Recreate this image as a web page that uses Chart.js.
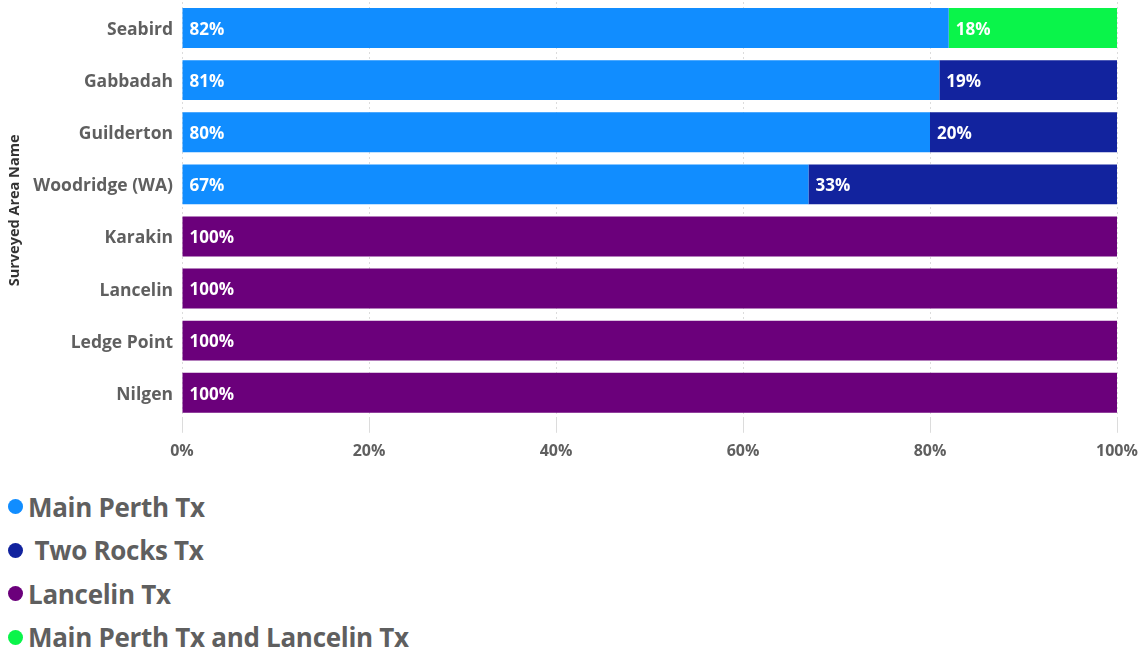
<!DOCTYPE html>
<html>
<head>
<meta charset="utf-8">
<script src="https://cdn.jsdelivr.net/npm/chart.js@4"></script>
<style>
  html, body { margin: 0; padding: 0; background: #fff; }
  body { width: 1147px; height: 655px; overflow: hidden; font-family: "Open Sans", "Noto Sans", sans-serif; }
  #wrap { position: relative; width: 1147px; height: 474px; }
  #legend { margin: 0; padding: 0; list-style: none; position: absolute; left: 8px; top: 485px; }
  #legend li { height: 43.5px; line-height: 36px; font-weight: 700; font-size: 26px; color: #5f5f5f; white-space: pre; display: flex; align-items: center; }
  #legend li span.dot { display: inline-block; width: 15px; height: 15px; border-radius: 50%; margin-right: 5px; }
  #legend li span.txt { letter-spacing: -0.3px; }
</style>
</head>
<body>
<div id="wrap"><canvas id="c"></canvas></div>
<ul id="legend"></ul>
<script>
// Surveyed areas, top to bottom
const areas = ["Seabird", "Gabbadah", "Guilderton", "Woodridge (WA)", "Karakin", "Lancelin", "Ledge Point", "Nilgen"];

// Share of households (%) by transmitter
const mainPerth      = [82, 81, 80, 67, null, null, null, null];
const twoRocks       = [null, 19, 20, 33, null, null, null, null];
const lancelin       = [null, null, null, null, 100, 100, 100, 100];
const mainPerthLanc  = [18, null, null, null, null, null, null, null];

const seriesNames = ["Main Perth Tx", " Two Rocks Tx", "Lancelin Tx", "Main Perth Tx and Lancelin Tx"];
const seriesColors = ["#118DFF", "#12239E", "#6B007B", "#0AF44A"];
const seriesValues = [mainPerth, twoRocks, lancelin, mainPerthLanc];

const xTicks = [0, 20, 40, 60, 80, 100];

const FONT = '"Open Sans", "Noto Sans", sans-serif';
const GREY = "#5f5f5f";

// Writes each segment's percentage just inside its left edge
const segmentLabels = {
  id: "segmentLabels",
  afterDatasetsDraw(chart) {
    const ctx = chart.ctx;
    ctx.save();
    ctx.font = "700 17px " + FONT;
    ctx.fillStyle = "#ffffff";
    ctx.textAlign = "left";
    ctx.textBaseline = "middle";
    chart.data.datasets.forEach((ds, i) => {
      const meta = chart.getDatasetMeta(i);
      meta.data.forEach((bar, j) => {
        const v = ds.data[j];
        if (v == null) return;
        const left = Math.min(bar.x, bar.base);
        ctx.fillText(v + "%", left + 7, bar.y + 2);
      });
    });
    ctx.restore();
  }
};

const chart = new Chart(document.getElementById("c"), {
  type: "bar",
  data: {
    labels: areas,
    datasets: seriesValues.map((vals, i) => ({
      label: seriesNames[i],
      data: vals,
      backgroundColor: seriesColors[i],
      borderWidth: 0,
      barPercentage: 0.765,
      categoryPercentage: 1
    }))
  },
  options: {
    indexAxis: "y",
    responsive: true,
    maintainAspectRatio: false,
    animation: false,
    layout: { padding: { top: 2, right: 30, bottom: 4, left: 6 } },
    plugins: {
      legend: { display: false },
      tooltip: { enabled: false }
    },
    scales: {
      x: {
        stacked: true,
        min: 0,
        max: 100,
        afterBuildTicks(axis) { axis.ticks = xTicks.map(v => ({ value: v })); },
        border: { display: false, dash: [2, 3] },
        grid: { color: "#dcdcdc", lineWidth: 1, tickLength: 14, drawOnChartArea: true },
        ticks: {
          callback: v => v + "%",
          color: GREY,
          font: { family: FONT, size: 16, weight: "700" },
          padding: 9
        }
      },
      y: {
        stacked: true,
        border: { display: false },
        grid: { display: false },
        afterFit(axis) { axis.paddingTop = 0; axis.paddingBottom = 0; axis.width = 176; },
        ticks: {
          color: GREY,
          font: { family: FONT, size: 17.5, weight: "700" },
          padding: 1,
          labelOffset: 2
        },
        title: {
          display: true,
          text: "Surveyed Area Name",
          color: "#333",
          font: { family: FONT, size: 14.5, weight: "700" },
          padding: { top: 0, bottom: 2 }
        }
      }
    }
  },
  plugins: [segmentLabels]
});

// Vertical legend listing each transmitter series
const legend = document.getElementById("legend");
chart.data.datasets.forEach(ds => {
  const li = document.createElement("li");
  const dot = document.createElement("span");
  dot.className = "dot";
  dot.style.background = ds.backgroundColor;
  const txt = document.createElement("span");
  txt.className = "txt";
  txt.textContent = ds.label;
  li.appendChild(dot);
  li.appendChild(txt);
  legend.appendChild(li);
});
</script>
</body>
</html>
